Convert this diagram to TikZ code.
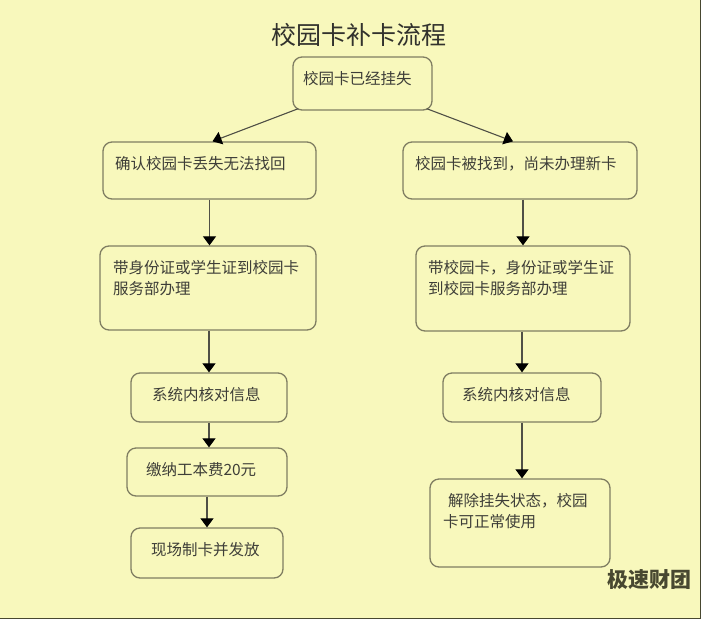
\documentclass[tikz,border=0pt]{standalone}
\usepackage{fontspec}
\setmainfont{Noto Sans CJK SC}
\usetikzlibrary{arrows.meta}

\definecolor{paper}{RGB}{248,248,188}
\definecolor{boxline}{RGB}{128,126,98}
\definecolor{flowline}{RGB}{80,80,70}
\definecolor{inktext}{RGB}{62,62,56}
\definecolor{marktext}{RGB}{72,72,48}

% text block of a step box: width, height, lines
\newcommand{\steptext}[3]{\parbox[c][#2][t]{#1}{\raggedright #3}}

\begin{document}
\begin{tikzpicture}[
  x=1pt, y=-1pt,
  stepbox/.style={draw=boxline, line width=1.3pt, fill=paper,
    rounded corners=9pt, inner ysep=14pt, text=inktext,
    font=\fontsize{15.5pt}{21pt}\selectfont},
  flow/.style={draw=flowline, line width=1.1pt,
    -{Triangle[width=13pt,length=9pt,color=black]}},
]
\useasboundingbox[fill=paper] (0,0) rectangle (701,619);
\draw[marktext, line width=1.5pt] (700.25,0) -- (700.25,618.25) -- (0,618.25);

% Title
\node[text=inktext!80!black, font=\fontsize{25pt}{30pt}\selectfont] (title) at (359,35) {校园卡补卡流程};

% Start
\node[stepbox, inner xsep=10pt] (lost) at (362.5,83.5) {\steptext{119pt}{25pt}{校园卡已经挂失}};

% Left branch: card cannot be found
\node[stepbox, inner xsep=12pt] (gone) at (209.5,170.5) {\steptext{189pt}{29pt}{确认校园卡丢失无法找回}};
\node[stepbox, inner xsep=13pt] (gonedesk) at (208,288) {\steptext{190pt}{56pt}{带身份证或学生证到校园卡\\服务部办理}};
\node[stepbox, inner xsep=21pt] (gonecheck) at (209,397.5) {\steptext{114pt}{21pt}{系统内核对信息}};
\node[stepbox, inner xsep=19pt] (fee) at (207,472) {\steptext{122pt}{20pt}{缴纳工本费20元}};
\node[stepbox, inner xsep=20pt] (issue) at (207,553) {\steptext{112pt}{22pt}{现场制卡并发放}};

% Right branch: card found again
\node[stepbox, inner xsep=12pt] (found) at (520,170.5) {\steptext{210pt}{29pt}{校园卡被找到，尚未办理新卡}};
\node[stepbox, inner xsep=12pt] (founddesk) at (523,288.5) {\steptext{190pt}{57pt}{带校园卡，身份证或学生证\\到校园卡服务部办理}};
\node[stepbox, inner xsep=19pt] (foundcheck) at (522,397.5) {\steptext{120pt}{21pt}{系统内核对信息}};
\node[stepbox, inner xsep=13pt] (unlock) at (520,523) {\steptext{154pt}{60pt}{\hspace*{5pt}解除挂失状态，校园\\卡可正常使用}};

% Watermark
\node[text=marktext, font=\fontsize{21pt}{24pt}\selectfont\bfseries] (mark) at (649,580) {极速财团};

% Connectors
\draw[flow] ([xshift=6pt,yshift=2pt]lost.south west) -- ([xshift=3pt]gone.north);
\draw[flow] ([xshift=-6pt,yshift=2pt]lost.south east) -- ([xshift=-7pt]found.north);

\draw[flow] (gone.south) -- (gone.south |- gonedesk.north);
\draw[flow] (gonedesk.south -| gonecheck.north) -- (gonecheck.north);
\draw[flow] (gonecheck.south) -- (gonecheck.south |- fee.north);
\draw[flow] (fee.south) -- (issue.north);

\draw[flow] (found.south -| founddesk.north) -- (founddesk.north);
\draw[flow] (founddesk.south -| foundcheck.north) -- (foundcheck.north);
\draw[flow] (foundcheck.south) -- (foundcheck.south |- unlock.north);
\end{tikzpicture}
\end{document}
